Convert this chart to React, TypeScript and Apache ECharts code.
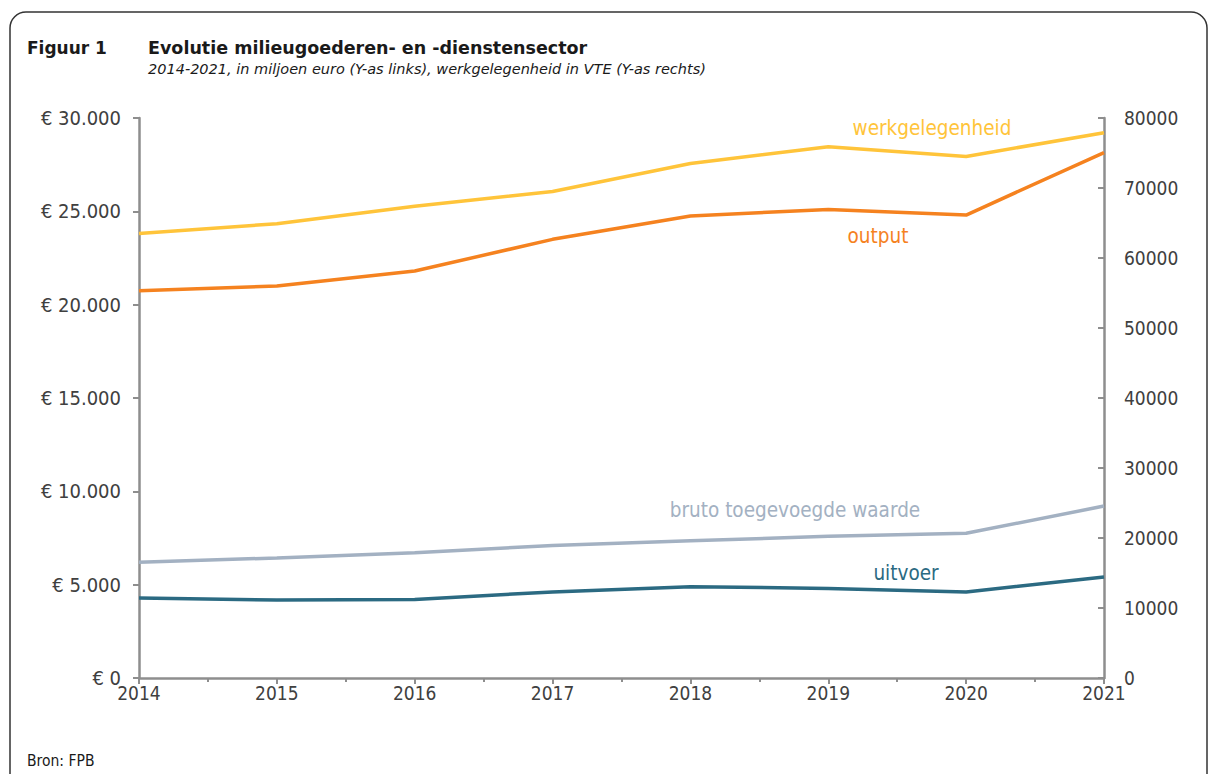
import React, { useEffect, useRef } from "react";
import * as echarts from "echarts";

const years = [2014, 2015, 2016, 2017, 2018, 2019, 2020, 2021];
const werkgelegenheid = [63500, 64900, 67400, 69500, 73500, 75900, 74500, 77900];
const output = [20750, 21000, 21800, 23500, 24750, 25100, 24800, 28150];
const brutoToegevoegdeWaarde = [6200, 6430, 6710, 7100, 7350, 7590, 7750, 9210];
const uitvoer = [4290, 4180, 4210, 4610, 4890, 4800, 4610, 5410];

const FONT = "'DejaVu Sans Condensed', 'DejaVu Sans', sans-serif";
const FONT_W = "'DejaVu Sans', sans-serif";
const AXIS_COLOR = "#8e8e8e";
const LABEL_COLOR = "#404040";

const C_WERK = "#FFC43A";
const C_OUT = "#F5821F";
const C_BTW = "#A3B1C2";
const C_UIT = "#2B6A82";

function euro(v: number): string {
  if (v === 0) return "€ 0";
  const s = String(Math.round(v)).replace(/\B(?=(\d{3})+(?!\d))/g, ".");
  return "€ " + s;
}

export default function App() {
  const ref = useRef<HTMLDivElement>(null);
  useEffect(() => {
    if (!ref.current) return;
    const chart = echarts.init(ref.current, null, { renderer: "svg" });
    const pair = (arr: number[]) => years.map((y, i) => [y, arr[i]]);
    chart.setOption({
      animation: false,
      backgroundColor: "#ffffff",
      textStyle: { fontFamily: FONT },
      grid: { left: 139, right: 105, top: 118, bottom: 96, containLabel: false },
      xAxis: {
        type: "value",
        min: 2014,
        max: 2021,
        interval: 1,
        axisLine: { show: true, lineStyle: { color: AXIS_COLOR, width: 2.5 } },
        axisTick: { show: true, length: 6, lineStyle: { color: AXIS_COLOR, width: 2 } },
        minorTick: { show: true, splitNumber: 2, length: 4, lineStyle: { color: AXIS_COLOR, width: 2 } },
        splitLine: { show: false },
        axisLabel: {
          color: LABEL_COLOR,
          fontSize: 19,
          fontFamily: FONT,
          margin: 5,
          formatter: (v: number) => String(v),
        },
      },
      yAxis: [
        {
          type: "value",
          min: 0,
          max: 30000,
          interval: 5000,
          position: "left",
          axisLine: { show: true, lineStyle: { color: AXIS_COLOR, width: 2.5 } },
          axisTick: { show: true, length: 6, lineStyle: { color: AXIS_COLOR, width: 2 } },
          splitLine: { show: false },
          axisLabel: {
            color: LABEL_COLOR,
            fontSize: 20,
            fontFamily: FONT,
            margin: 18,
            formatter: euro,
          },
        },
        {
          type: "value",
          min: 0,
          max: 80000,
          interval: 10000,
          position: "right",
          axisLine: { show: true, lineStyle: { color: AXIS_COLOR, width: 2.5 } },
          axisTick: { show: true, inside: true, length: 6, lineStyle: { color: AXIS_COLOR, width: 2 } },
          splitLine: { show: false },
          axisLabel: {
            color: LABEL_COLOR,
            fontSize: 19,
            fontFamily: FONT,
            margin: 20,
            formatter: (v: number) => String(v),
          },
        },
      ],
      series: [
        {
          name: "bruto toegevoegde waarde",
          type: "line",
          yAxisIndex: 0,
          data: pair(brutoToegevoegdeWaarde),
          symbol: "none",
          lineStyle: { color: C_BTW, width: 3.5 },
          itemStyle: { color: C_BTW },
        },
        {
          name: "uitvoer",
          type: "line",
          yAxisIndex: 0,
          data: pair(uitvoer),
          symbol: "none",
          lineStyle: { color: C_UIT, width: 3.5 },
          itemStyle: { color: C_UIT },
        },
        {
          name: "output",
          type: "line",
          yAxisIndex: 0,
          data: pair(output),
          symbol: "none",
          lineStyle: { color: C_OUT, width: 3.5 },
          itemStyle: { color: C_OUT },
        },
        {
          name: "werkgelegenheid",
          type: "line",
          yAxisIndex: 1,
          data: pair(werkgelegenheid),
          symbol: "none",
          lineStyle: { color: C_WERK, width: 3.5 },
          itemStyle: { color: C_WERK },
        },
      ],
      graphic: [
        {
          type: "rect",
          shape: { x: 10, y: 12, width: 1197, height: 800, r: 16 },
          style: { fill: "none", stroke: "#333333", lineWidth: 1.5 },
          silent: true,
        },
        {
          type: "text",
          x: 27,
          y: 48,
          style: {
            text: "Figuur 1",
            font: "bold 17px " + FONT_W,
            fill: "#1a1a1a",
            textVerticalAlign: "middle",
          },
        },
        {
          type: "text",
          x: 148,
          y: 48,
          style: {
            text: "Evolutie milieugoederen- en -dienstensector",
            font: "bold 17.5px " + FONT_W,
            fill: "#1a1a1a",
            textVerticalAlign: "middle",
          },
        },
        {
          type: "text",
          x: 148,
          y: 69,
          style: {
            text: "2014-2021, in miljoen euro (Y-as links), werkgelegenheid in VTE (Y-as rechts)",
            font: "italic 14.5px " + FONT_W,
            fill: "#1a1a1a",
            textVerticalAlign: "middle",
          },
        },
        {
          type: "text",
          x: 27,
          y: 761,
          style: {
            text: "Bron: FPB",
            font: "15.5px " + FONT,
            fill: "#1a1a1a",
            textVerticalAlign: "middle",
          },
        },
        {
          type: "text",
          x: 932,
          y: 128,
          style: {
            text: "werkgelegenheid",
            font: "20.5px " + FONT,
            fill: C_WERK,
            textAlign: "center",
            textVerticalAlign: "middle",
          },
        },
        {
          type: "text",
          x: 878,
          y: 236,
          style: {
            text: "output",
            font: "20.5px " + FONT,
            fill: C_OUT,
            textAlign: "center",
            textVerticalAlign: "middle",
          },
        },
        {
          type: "text",
          x: 795,
          y: 510,
          style: {
            text: "bruto toegevoegde waarde",
            font: "20.5px " + FONT,
            fill: C_BTW,
            textAlign: "center",
            textVerticalAlign: "middle",
          },
        },
        {
          type: "text",
          x: 906,
          y: 573,
          style: {
            text: "uitvoer",
            font: "20.5px " + FONT,
            fill: C_UIT,
            textAlign: "center",
            textVerticalAlign: "middle",
          },
        },
      ],
    });
    return () => chart.dispose();
  }, []);
  return (
    <div
      ref={ref}
      style={{ position: "fixed", left: 0, top: 0, width: 1209, height: 774, background: "#fff" }}
    />
  );
}
